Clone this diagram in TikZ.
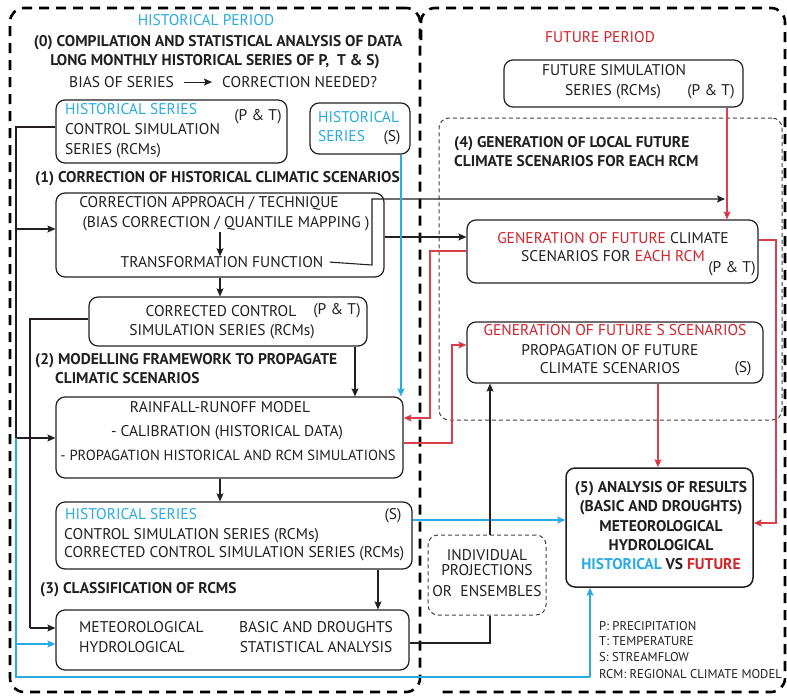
\documentclass[tikz,border=0pt]{standalone}
\usepackage{fontspec}
\setmainfont{PT Sans}
\usetikzlibrary{arrows.meta}
\definecolor{hblue}{HTML}{29ABE2}
\definecolor{fred}{HTML}{D2232A}
\definecolor{lred}{HTML}{D9404E}
\definecolor{txt}{HTML}{231F20}
\tikzset{
  box/.style={draw=txt, line width=1.2pt, rounded corners=9pt, inner sep=0pt},
  dbox/.style={draw=txt!85, line width=1pt, dash pattern=on 4pt off 3pt, rounded corners=10pt, inner sep=0pt},
  outer/.style={draw=black, line width=2.6pt, dash pattern=on 10pt off 7pt, rounded corners=14pt},
  t/.style={inner sep=0pt, text=txt, font=\fontsize{15.5}{17}\selectfont, anchor=mid},
  tb/.style={t, font=\fontsize{15.5}{17}\selectfont\bfseries},
  tl/.style={t, font=\fontsize{12.7}{14}\selectfont, anchor=mid west},
  conn/.style={line width=1.1pt, draw=txt},
  arr/.style={conn, -{Stealth[length=8pt,width=7pt,inset=1.5pt]}},
  barr/.style={arr, draw=hblue, -{Stealth[length=8pt,width=7pt,inset=1.5pt]}},
  bconn/.style={conn, draw=hblue},
  rarr/.style={arr, draw=lred, -{Stealth[length=8pt,width=7pt,inset=1.5pt,fill=fred]}},
  rconn/.style={conn, draw=lred},
}
\begin{document}
\begin{tikzpicture}[x=1pt,y=-1pt]
\useasboundingbox (0,0) rectangle (787,696);
\fill[white] (0,0) rectangle (787,696);

% outer period boxes
\node[outer, minimum width=410pt, minimum height=684pt] (histbox) at (215,350) {};
\draw[outer] (421,40) |- (785,8) |- (440,692);

% ---------- historical period ----------
\node[t, text=hblue] (hp) at (206,23) {HISTORICAL PERIOD};
\node[tb] (h0a) at (218,44) {(0) COMPILATION AND STATISTICAL ANALYSIS OF DATA};
\node[tb] (h0b) at (215,63) {LONG MONTHLY HISTORICAL SERIES OF P,~ T \& S)};
\node[t, anchor=mid east] (bias) at (174,85) {BIAS OF SERIES};
\node[t, anchor=mid west] (cneed) at (222,85) {CORRECTION NEEDED?};

\node[box, minimum width=231pt, minimum height=63pt] (hpt) at (171.5,131.5) {};
\node[t, anchor=mid west, text=hblue] (hpt1) at (65,112) {HISTORICAL SERIES};
\node[t, anchor=mid west] (hpt2) at (65,132) {CONTROL SIMULATION};
\node[t, anchor=mid west] (hpt3) at (65,152) {SERIES (RCMs)};
\node[t] (hpt4) at (258,118) {(P \& T)};

\node[box, minimum width=100pt, minimum height=51pt] (hs) at (360,128.5) {};
\node[t, anchor=mid west, text=hblue] (hs1) at (318,120) {HISTORICAL};
\node[t, anchor=mid west, text=hblue] (hs2) at (318,139) {SERIES};
\node[t] (hs3) at (392,139) {(S)};

\node[tb, anchor=mid west] (h1) at (35,180) {(1) CORRECTION OF HISTORICAL CLIMATIC SCENARIOS};

\node[box, minimum width=328pt, minimum height=84pt] (corr) at (220,235) {};
\node[t] (corr1) at (209,205) {CORRECTION APPROACH / TECHNIQUE};
\node[t] (corr2) at (226,225) {(BIAS CORRECTION / QUANTILE MAPPING )};
\node[t] (tf) at (222,265) {TRANSFORMATION FUNCTION};

\node[box, minimum width=278pt, minimum height=49pt] (ccs) at (228,321.5) {};
\node[t] (ccs1) at (221,314) {CORRECTED CONTROL};
\node[t] (ccs2) at (337,312) {(P \& T)};
\node[t] (ccs3) at (222,333) {SIMULATION SERIES (RCMs)};

\node[tb, anchor=mid west] (h2a) at (35,362) {(2) MODELLING FRAMEWORK TO PROPAGATE};
\node[tb, anchor=mid west] (h2b) at (55,381) {CLIMATIC SCENARIOS};

\node[box, minimum width=347pt, minimum height=81pt] (rr) at (229.5,437.5) {};
\node[t] (rr1) at (220,410) {RAINFALL-RUNOFF MODEL};
\node[t] (rr2) at (227,434) {- CALIBRATION (HISTORICAL DATA)};
\node[t, font=\fontsize{14.6}{17}\selectfont] (rr3) at (228,458) {- PROPAGATION HISTORICAL AND RCM SIMULATIONS};

\node[box, minimum width=356pt, minimum height=67pt] (hss) at (234,535.5) {};
\node[t, anchor=mid west, text=hblue] (hss1) at (65,517) {HISTORICAL SERIES};
\node[t] (hss2) at (393,517) {(S)};
\node[t, anchor=mid west] (hss3) at (64,537) {CONTROL SIMULATION SERIES (RCMs)};
\node[t, anchor=mid west] (hss4) at (64,555) {CORRECTED CONTROL SIMULATION SERIES (RCMs)};

\node[tb, anchor=mid west] (h3) at (40,591) {(3) CLASSIFICATION OF RCMS};

\node[box, minimum width=353pt, minimum height=60pt] (cls) at (232.5,640) {};
\node[t, anchor=mid west] (cls1) at (79,630) {METEOROLOGICAL};
\node[t, anchor=mid west] (cls2) at (79,650) {HYDROLOGICAL};
\node[t] (cls3) at (316,630) {BASIC AND DROUGHTS};
\node[t] (cls4) at (316,650) {STATISTICAL ANALYSIS};

% ---------- future period ----------
\node[t, text=fred] (fp) at (600,40) {FUTURE PERIOD};
\node[box, minimum width=239pt, minimum height=47pt] (fs) at (623.5,83.5) {};
\node[t] (fs1) at (614,73) {FUTURE SIMULATION};
\node[t] (fs2) at (613,93) {SERIES (RCMs)};
\node[t] (fs3) at (711,93) {(P \& T)};

\node[dbox, minimum width=343pt, minimum height=302pt] (g4) at (610.5,269) {};
\node[tb, anchor=mid west] (h4a) at (454,145) {(4) GENERATION OF LOCAL FUTURE};
\node[tb, anchor=mid west] (h4b) at (454,164) {CLIMATE SCENARIOS FOR EACH RCM};

\node[box, minimum width=291pt, minimum height=63pt] (gf) at (612.5,251.5) {};
\node[t] (gf1) at (613,241) {\textcolor{fred}{GENERATION OF FUTURE} CLIMATE};
\node[t] (gf2) at (613,259) {SCENARIOS FOR \textcolor{fred}{EACH RCM}};
\node[t] (gf3) at (732,270) {(P \& T)};

\node[box, minimum width=296pt, minimum height=61pt] (gs) at (615,352.5) {};
\node[t, text=fred] (gs1) at (615,333) {GENERATION OF FUTURE S SCENARIOS};
\node[t] (gs2) at (610,353) {PROPAGATION OF FUTURE};
\node[t] (gs3) at (610,371) {CLIMATE SCENARIOS};
\node[t] (gs4) at (743,370) {(S)};

\node[dbox, minimum width=118pt, minimum height=80pt] (ind) at (487,575) {};
\node[t] (ind1) at (487,558) {INDIVIDUAL};
\node[t] (ind2) at (487,573) {PROJECTIONS};
\node[t] (ind3) at (487,594) {OR~ ENSEMBLES};

\node[box, line width=1.5pt, minimum width=187pt, minimum height=119pt] (fin) at (659.5,527.5) {};
\node[tb] (fin1) at (661,490) {(5) ANALYSIS OF RESULTS};
\node[tb] (fin2) at (661,509) {(BASIC AND DROUGHTS)};
\node[tb] (fin3) at (661,529) {METEOROLOGICAL};
\node[tb] (fin4) at (661,548) {HYDROLOGICAL};
\node[tb] (fin5) at (661,567) {\textcolor{hblue}{HISTORICAL} VS \textcolor{fred}{FUTURE}};

\node[tl] (lg1) at (599,628) {P: PRECIPITATION};
\node[tl] (lg2) at (599,643) {T: TEMPERATURE};
\node[tl] (lg3) at (599,659) {S: STREAMFLOW};
\node[tl] (lg4) at (599,676) {RCM: REGIONAL CLIMATE MODEL};

% ---------- connectors ----------
\draw[arr, shorten <=10pt, shorten >=10pt] (bias) -- (cneed);
% historical P&T series to correction and rainfall-runoff
\draw[conn] (hpt.west |- 0,127) -- (16,127) -- (16,438);
\draw[arr] (16,229) -- (corr.west |- 0,229);
\draw[arr] (16,438) -- (rr.west |- 0,438);
% inside correction box
\draw[arr] (220,232) -- (tf.north -| 220,0);
\coordinate (tfend) at (725,199);
\draw[arr] (tf.east) ++(6,0) -- (372,265) -- (372,199) -- (tfend);
\draw[arr] (corr.east |- 0,237) -- (gf.west |- 0,237);
\draw[arr] (corr.south) -- (corr.south |- ccs.north);
% corrected control series
\draw[conn] (ccs.west |- 0,319) -- (30,319) -- (30,628);
\draw[arr] (30,628) -- (cls.west |- 0,628);
\draw[arr] (ccs.south -| 355,0) -- (rr.north -| 355,0);
% historical S series
\draw[barr] (hs.south -| 401,0) -- (rr.north -| 401,0);
% rainfall-runoff
\draw[arr] (rr.south -| 220,0) -- (hss.north -| 220,0);
\draw[rarr] (gf.west |- 0,251) -- (430,251) -- (430,418) -- (rr.east |- 0,418);
\draw[rarr] (rr.east |- 0,443) -- (452,443) -- (452,345) -- (gs.west |- 0,345);
% historical S / classification
\draw[barr] (hss.east |- 0,520) -- (fin.west |- 0,520);
\draw[arr] (hss.south -| 378,0) -- (cls.north -| 378,0);
\draw[conn] (cls.east |- 0,643) -- (490,643) -- (ind.south -| 490,0);
\draw[arr] (ind.north -| 490,0) -- (gs.south -| 490,0);
% blue loop at the bottom
\draw[bconn] (16,438) -- (16,677) -- (590,677);
\draw[barr] (590,677) -- (fin.south -| 590,0);
\draw[barr] (16,644) -- (cls.west |- 0,644);
% future
\draw[rarr] (fs.south -| 727,0) -- (gf.north -| 727,0);
\draw[rarr] (gf.east |- 0,240) -- (776,240) -- (776,523) -- (fin.east |- 0,523);
\draw[rarr] (gs.south -| 658,0) -- (fin.north -| 658,0);
\end{tikzpicture}
\end{document}
